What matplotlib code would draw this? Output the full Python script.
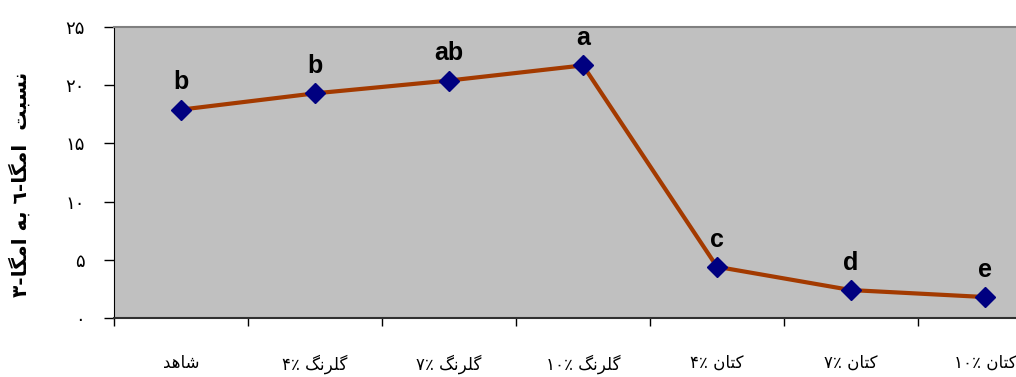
import matplotlib
matplotlib.use('Agg')
import matplotlib.pyplot as plt

plt.rcParams['font.family'] = ['DejaVu Sans']

# data
labels = ['شاهد', 'گلرنگ ۴٪', 'گلرنگ ۷٪', 'گلرنگ ۱۰٪', 'کتان ۴٪', 'کتان ۷٪', 'کتان ۱۰٪']
ratio = [17.9, 19.3, 20.4, 21.7, 4.4, 2.4, 1.8]
letters = ['b', 'b', 'ab', 'a', 'c', 'd', 'e']
yticks = [0, 5, 10, 15, 20, 25]
ylabel = 'نسبت  امگا-٦ به امگا-۳'

# no text shaping in matplotlib, so pick presentation forms by hand
# (isolated, final, initial, medial)
FORMS = {
    'ا': (0xFE8D, 0xFE8E, None, None),
    'ب': (0xFE8F, 0xFE90, 0xFE91, 0xFE92),
    'ت': (0xFE95, 0xFE96, 0xFE97, 0xFE98),
    'د': (0xFEA9, 0xFEAA, None, None),
    'ر': (0xFEAD, 0xFEAE, None, None),
    'س': (0xFEB1, 0xFEB2, 0xFEB3, 0xFEB4),
    'ش': (0xFEB5, 0xFEB6, 0xFEB7, 0xFEB8),
    'ل': (0xFEDD, 0xFEDE, 0xFEDF, 0xFEE0),
    'م': (0xFEE1, 0xFEE2, 0xFEE3, 0xFEE4),
    'ن': (0xFEE5, 0xFEE6, 0xFEE7, 0xFEE8),
    'ه': (0xFEE9, 0xFEEA, 0xFEEB, 0xFEEC),
    'ک': (0xFB8E, 0xFB8F, 0xFB90, 0xFB91),
    'گ': (0xFB92, 0xFB93, 0xFB94, 0xFB95),
}


def shape_part(p):
    if not any(c in FORMS for c in p):
        return p
    out = []
    n = len(p)
    for i, c in enumerate(p):
        if c not in FORMS:
            out.append(c)
            continue
        f = FORMS[c]
        prev = i > 0 and p[i-1] in FORMS and FORMS[p[i-1]][2] is not None
        nxt = i < n-1 and p[i+1] in FORMS and f[2] is not None
        if prev and nxt:
            code = f[3]
        elif prev:
            code = f[1]
        elif nxt:
            code = f[2]
        else:
            code = f[0]
        out.append(chr(code))
    return ''.join(reversed(out))


def vis_word(w):
    parts = w.split('-')
    return '-'.join(shape_part(p) for p in reversed(parts))


def display(s):
    return ' '.join(vis_word(w) for w in reversed(s.split(' ')))


def fa_num(n):
    return ''.join(chr(0x06F0 + int(d)) for d in str(n))


fig = plt.figure(figsize=(10.16, 3.77), dpi=100)
ax = fig.add_axes([114/1016, 59/377, 938/1016, 291/377])
ax.set_facecolor('#c0c0c0')

x = list(range(len(ratio)))
ax.plot(x, ratio, color='#a33a00', lw=3, marker='D', ms=10,
        mfc='#000080', mec='#000080', zorder=3)

for xi, yi, t in zip(x, ratio, letters):
    ax.annotate(t, (xi, yi), xytext=(0, 11), textcoords='offset points',
                ha='center', va='bottom', fontsize=18, fontweight='bold',
                family='Liberation Sans')

ax.set_xlim(-0.5, len(ratio) - 0.5)
ax.set_ylim(0, 25)

ax.set_yticks(yticks)
ax.set_yticklabels([fa_num(v) for v in yticks], fontsize=13)
ax.tick_params(axis='y', direction='out', length=7, width=1, pad=14)

ax.set_xticks([i - 0.5 for i in range(len(ratio) + 1)])
ax.set_xticklabels([])
ax.tick_params(axis='x', which='major', direction='out', length=6, width=1)
ax.set_xticks(x, minor=True)
ax.set_xticklabels([display(l) for l in labels], minor=True, fontsize=12)
ax.tick_params(axis='x', which='minor', length=0, pad=26)

ax.spines['top'].set_color('#808080')
ax.spines['top'].set_linewidth(1.5)
ax.spines['right'].set_visible(False)
ax.spines['left'].set_color('black')
ax.spines['bottom'].set_color('#303030')
ax.spines['bottom'].set_linewidth(1.5)

fig.text(20/1016, 0.51, display(ylabel), rotation=90, ha='center', va='center',
         fontsize=14.5, fontweight='bold')

fig.savefig('out.png', dpi=100)
